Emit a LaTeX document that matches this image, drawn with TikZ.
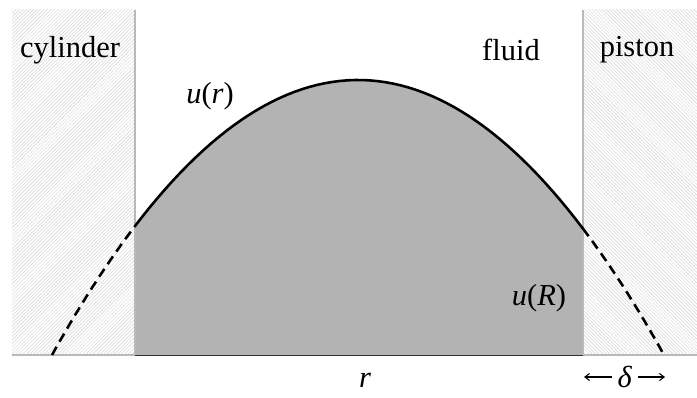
\documentclass[tikz,border=0pt]{standalone}
\usepackage{fontspec}
\setmainfont{Liberation Serif}
\usetikzlibrary{arrows.meta,patterns}
\definecolor{FluidGray}{RGB}{179,179,179}
\definecolor{WallGray}{RGB}{185,185,185}
\definecolor{HatchGray}{RGB}{212,212,212}
\newcommand{\profile}[1]{80+275*((#1-358)/306)^2}

\begin{document}
\begin{tikzpicture}[x=0.03cm,y=-0.03cm,
  lbl/.style={font=\fontsize{26}{30}\selectfont,inner sep=0pt},
  curve/.style={line width=2.2pt}]
\useasboundingbox (0,0) rectangle (697,398);
% walls
\fill[pattern=north east lines,pattern color=HatchGray] (12,10) rectangle (135,355);
\fill[pattern=north west lines,pattern color=HatchGray] (583,10) rectangle (697,355);
% flow profile
\fill[FluidGray] (135,355) -- plot[domain=135:583,samples=60] (\x,{\profile{\x}}) -- (583,355) -- cycle;
\draw[WallGray,line width=1.2pt] (135,10) -- (135,355) (583,10) -- (583,355);
\draw[WallGray,line width=1.2pt] (12,355) -- (135,355) (583,355) -- (697,355);
\draw[black!80,line width=0.8pt] (135,355) -- (583,355);
\draw[curve] plot[domain=135:583,samples=60] (\x,{\profile{\x}});
\draw[curve,dash pattern=on 8pt off 5pt] plot[domain=52:135,samples=20] (\x,{\profile{\x}});
\draw[curve,dash pattern=on 8pt off 5pt] plot[domain=583:664,samples=20] (\x,{\profile{\x}});
% labels
\node[lbl] (cylinder) at (70,50) {cylinder};
\node[lbl] (fluid) at (511,50) {fluid};
\node[lbl] (piston) at (637,50) {piston};
\node[lbl] (ur) at (210,96) {\textit{u}(\textit{r})};
\node[lbl] (uR) at (539,298) {\textit{u}(\textit{R})};
\node[lbl] (r) at (365,380) {\textit{r}};
\node[lbl,inner sep=5pt] (delta) at (625,377) {\textit{δ}};
\coordinate (pistonfoot) at (584,377);
\coordinate (curvefoot) at (665,377);
\draw[-{Straight Barb[length=4pt,width=6pt]},line width=0.9pt] (delta) -- (pistonfoot);
\draw[-{Straight Barb[length=4pt,width=6pt]},line width=0.9pt] (delta) -- (curvefoot);
\end{tikzpicture}
\end{document}
